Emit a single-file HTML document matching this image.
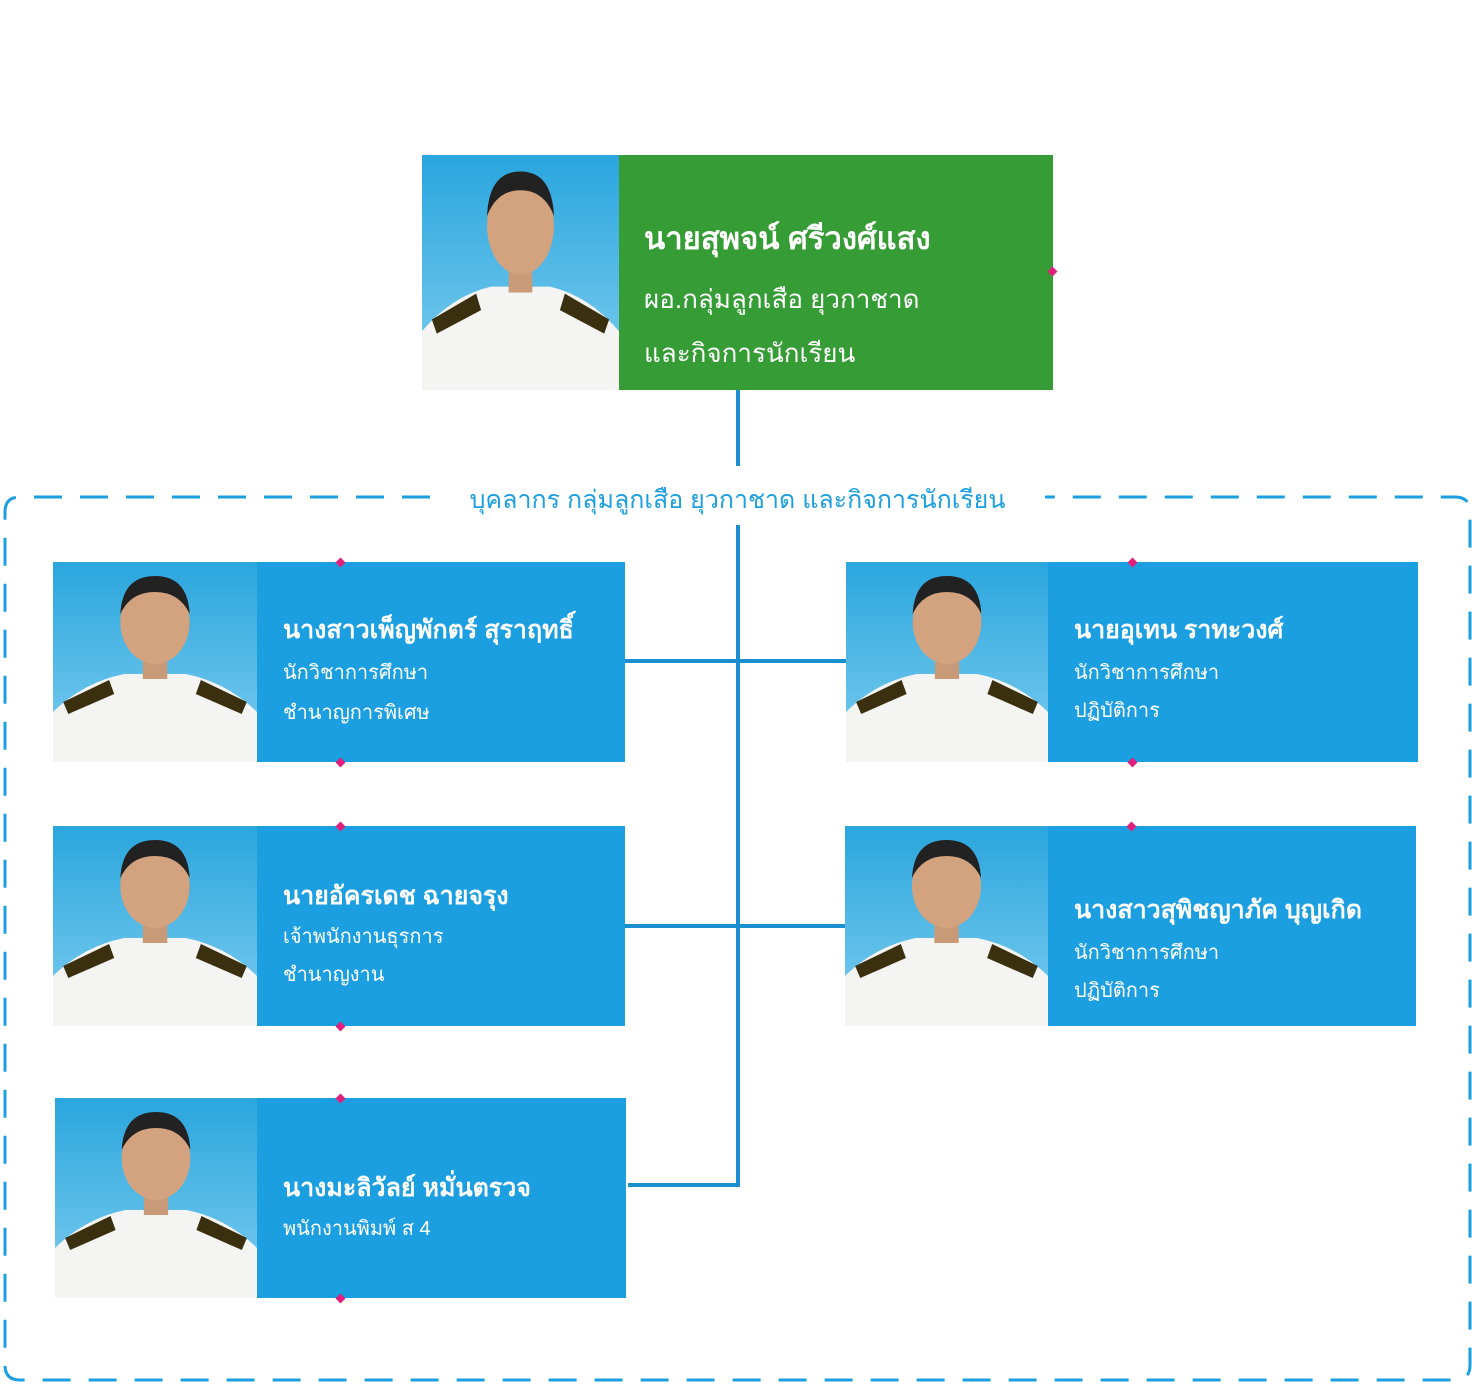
<!DOCTYPE html>
<html><head><meta charset="utf-8">
<style>
*{margin:0;padding:0;box-sizing:border-box}
body{width:1472px;height:1400px;background:#fff;position:relative;overflow:hidden;font-family:"Liberation Sans","DejaVu Sans",sans-serif}
.a{position:absolute}
.blue{background:#1c9fe0;color:#fff}
.ln{position:absolute;background:#1c8fd0}
.name{font-size:25px;font-weight:bold;white-space:nowrap}
.sub{font-size:20px;white-space:nowrap}
.dia{position:absolute;width:7px;height:7px;background:#e0207a;transform:rotate(45deg)}
</style></head><body>
<svg class="a" style="left:0;top:0" width="1472" height="1400">
<path d="M430 497 L20 497 Q5 497 5 512 L5 1365 Q5 1380 20 1380 L1455 1380 Q1470 1380 1470 1365 L1470 512 Q1470 497 1455 497 L1045 497" fill="none" stroke="#1c9fe0" stroke-width="3" stroke-dasharray="28 18"/>
<defs>
<linearGradient id="bg" x1="0" y1="0" x2="0" y2="1"><stop offset="0" stop-color="#2aa6de"/><stop offset="1" stop-color="#7fcdef"/></linearGradient>
<g id="p">
<rect width="200" height="200" fill="url(#bg)"/>
<path d="M0 200 L0 150 Q30 120 70 112 L130 112 Q170 120 200 150 L200 200Z" fill="#f4f4f2"/>
<path d="M10 140 L55 118 L60 132 L15 152Z M190 140 L145 118 L140 132 L185 152Z" fill="#3a3010"/>
<rect x="88" y="85" width="24" height="32" fill="#c99a78"/>
<ellipse cx="100" cy="60" rx="34" ry="42" fill="#d3a27f"/>
<path d="M66 52 Q68 14 100 14 Q132 14 134 52 Q124 30 100 30 Q76 30 66 52Z" fill="#222"/>
</g>
</defs>
<use href="#p" transform="translate(422,155) scale(0.985,1.175)"/>
<use href="#p" transform="translate(53,562) scale(1.02,1)"/>
<use href="#p" transform="translate(53,826) scale(1.02,1)"/>
<use href="#p" transform="translate(55,1098) scale(1.01,1)"/>
<use href="#p" transform="translate(846,562) scale(1.01,1)"/>
<use href="#p" transform="translate(845,826) scale(1.015,1)"/>
</svg>
<div class="a" style="left:619px;top:155px;width:434px;height:235px;background:#369c35;color:#fff">
 <div class="a name" style="left:25px;top:58px;font-size:31px">นายสุพจน์ ศรีวงศ์แสง</div>
 <div class="a sub" style="left:25px;top:124px;font-size:26px">ผอ.กลุ่มลูกเสือ ยุวกาชาด</div>
 <div class="a sub" style="left:25px;top:178px;font-size:26px">และกิจการนักเรียน</div>
</div>
<div class="dia" style="left:1049px;top:268px"></div>
<div class="ln" style="left:736px;top:390px;width:4px;height:76px"></div>
<div class="a" style="left:430px;top:480px;width:615px;text-align:center;color:#1c9fe0;font-size:25px;white-space:nowrap">บุคลากร กลุ่มลูกเสือ ยุวกาชาด และกิจการนักเรียน</div>
<div class="ln" style="left:736px;top:525px;width:4px;height:662px"></div>
<div class="ln" style="left:625px;top:659px;width:221px;height:4px"></div>
<div class="ln" style="left:625px;top:924px;width:220px;height:4px"></div>
<div class="ln" style="left:628px;top:1183px;width:112px;height:4px"></div>

<div class="a blue" style="left:257px;top:562px;width:368px;height:200px">
 <div class="a name" style="left:26px;top:48px">นางสาวเพ็ญพักตร์ สุราฤทธิ์</div>
 <div class="a sub" style="left:26px;top:94px">นักวิชาการศึกษา</div>
 <div class="a sub" style="left:26px;top:134px">ชำนาญการพิเศษ</div>
</div>
<div class="a blue" style="left:257px;top:826px;width:368px;height:200px">
 <div class="a name" style="left:26px;top:50px">นายอัครเดช ฉายจรุง</div>
 <div class="a sub" style="left:26px;top:94px">เจ้าพนักงานธุรการ</div>
 <div class="a sub" style="left:26px;top:132px">ชำนาญงาน</div>
</div>
<div class="a blue" style="left:257px;top:1098px;width:369px;height:200px">
 <div class="a name" style="left:26px;top:70px">นางมะลิวัลย์  หมั่นตรวจ</div>
 <div class="a sub" style="left:26px;top:114px">พนักงานพิมพ์ ส 4</div>
</div>
<div class="a blue" style="left:1048px;top:562px;width:370px;height:200px">
 <div class="a name" style="left:26px;top:48px">นายอุเทน ราทะวงศ์</div>
 <div class="a sub" style="left:26px;top:94px">นักวิชาการศึกษา</div>
 <div class="a sub" style="left:26px;top:132px">ปฏิบัติการ</div>
</div>
<div class="a blue" style="left:1048px;top:826px;width:368px;height:200px">
 <div class="a name" style="left:26px;top:64px">นางสาวสุพิชญาภัค  บุญเกิด</div>
 <div class="a sub" style="left:26px;top:110px">นักวิชาการศึกษา</div>
 <div class="a sub" style="left:26px;top:148px">ปฏิบัติการ</div>
</div>
<div class="dia" style="left:337px;top:559px"></div><div class="dia" style="left:337px;top:759px"></div>
<div class="dia" style="left:337px;top:823px"></div><div class="dia" style="left:337px;top:1023px"></div>
<div class="dia" style="left:337px;top:1095px"></div><div class="dia" style="left:337px;top:1295px"></div>
<div class="dia" style="left:1129px;top:559px"></div><div class="dia" style="left:1129px;top:759px"></div>
<div class="dia" style="left:1128px;top:823px"></div>
</body></html>
